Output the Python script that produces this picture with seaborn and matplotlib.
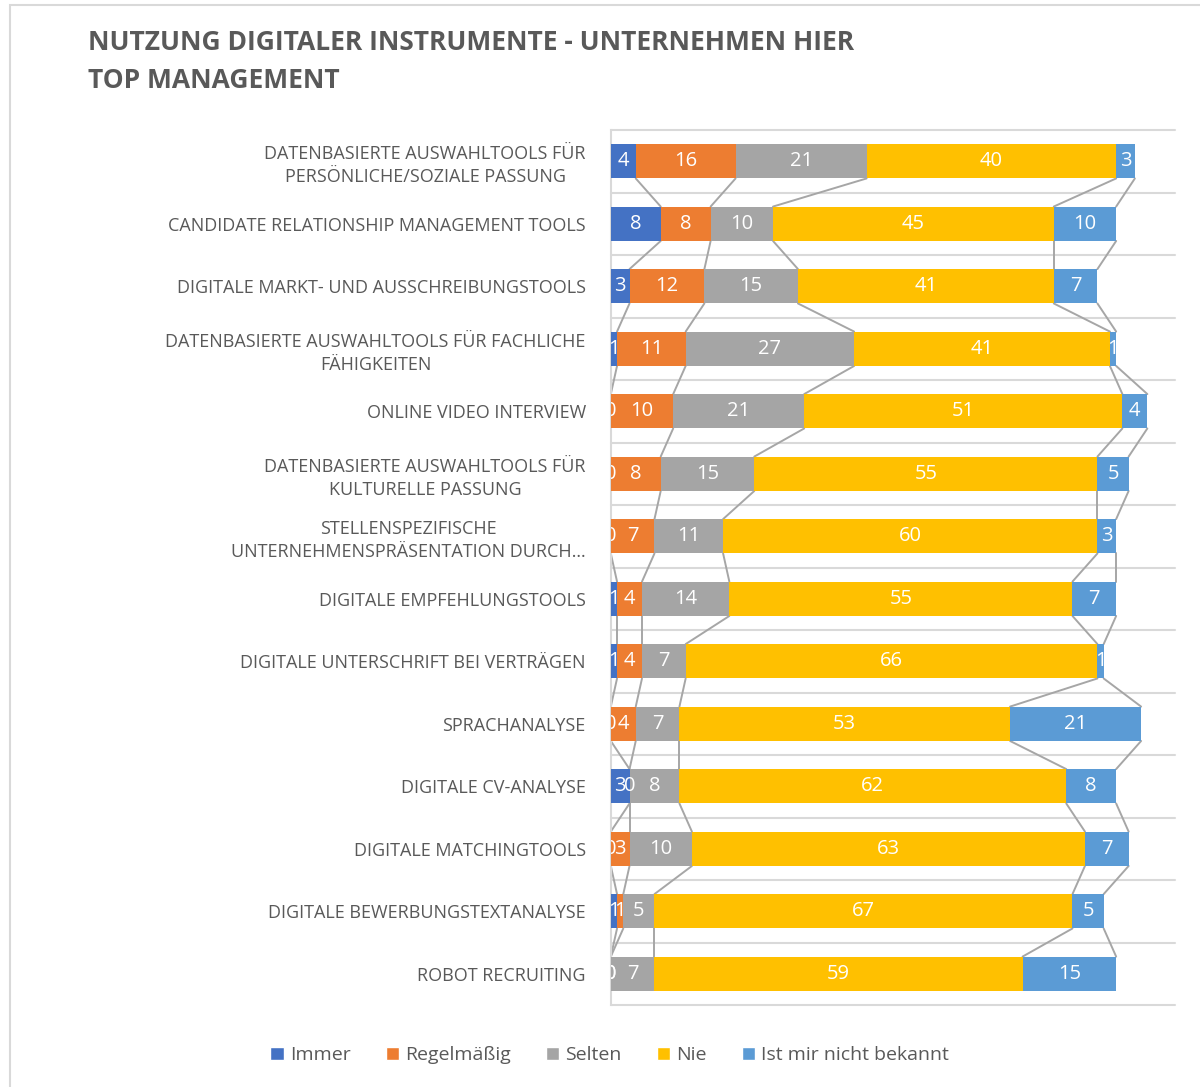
import numpy as np
import pandas as pd
import seaborn as sns
import matplotlib.pyplot as plt
from matplotlib.patches import Patch, Rectangle

categories = [
    'DATENBASIERTE AUSWAHLTOOLS FÜR\nPERSÖNLICHE/SOZIALE PASSUNG',
    'CANDIDATE RELATIONSHIP MANAGEMENT TOOLS',
    'DIGITALE MARKT- UND AUSSCHREIBUNGSTOOLS',
    'DATENBASIERTE AUSWAHLTOOLS FÜR FACHLICHE\nFÄHIGKEITEN',
    'ONLINE VIDEO INTERVIEW',
    'DATENBASIERTE AUSWAHLTOOLS FÜR\nKULTURELLE PASSUNG',
    'STELLENSPEZIFISCHE\nUNTERNEHMENSPRÄSENTATION DURCH…',
    'DIGITALE EMPFEHLUNGSTOOLS',
    'DIGITALE UNTERSCHRIFT BEI VERTRÄGEN',
    'SPRACHANALYSE',
    'DIGITALE CV-ANALYSE',
    'DIGITALE MATCHINGTOOLS',
    'DIGITALE BEWERBUNGSTEXTANALYSE',
    'ROBOT RECRUITING',
]
series = ['Immer', 'Regelmäßig', 'Selten', 'Nie', 'Ist mir nicht bekannt']
immer = [4, 8, 3, 1, 0, 0, 0, 1, 1, 0, 3, 0, 1, 0]
regelmaessig = [16, 8, 12, 11, 10, 8, 7, 4, 4, 4, 0, 3, 1, 0]
selten = [21, 10, 15, 27, 21, 15, 11, 14, 7, 7, 8, 10, 5, 7]
nie = [40, 45, 41, 41, 51, 55, 60, 55, 66, 53, 62, 63, 67, 59]
unbekannt = [3, 10, 7, 1, 4, 5, 3, 7, 1, 21, 8, 7, 5, 15]
colors = ['#4472C4', '#ED7D31', '#A5A5A5', '#FFC000', '#5B9BD5']

title = 'NUTZUNG DIGITALER INSTRUMENTE - UNTERNEHMEN HIER\nTOP MANAGEMENT'

sns.set_theme(style='white')
plt.rcParams['font.family'] = ['Open Sans', 'DejaVu Sans']

vals = np.array([immer, regelmaessig, selten, nie, unbekannt], dtype=float)
cum = vals.cumsum(axis=0)
bar_w = 0.55

fig = plt.figure(figsize=(12, 10.87), dpi=100)
ax = fig.add_axes([0.509, 0.0754, 0.470, 0.8050])

# stacked bars: draw cumulative totals from the widest down
for k in range(len(series) - 1, -1, -1):
    df = pd.DataFrame({'cat': categories, 'val': cum[k]})
    sns.barplot(data=df, x='val', y='cat', order=categories, orient='h',
                color=colors[k], width=bar_w, linewidth=0,
                saturation=1, ax=ax, zorder=3)

# series lines between neighbouring bars
for k in range(len(series)):
    for i in range(len(categories) - 1):
        ax.plot([cum[k][i], cum[k][i + 1]],
                [i + bar_w / 2, i + 1 - bar_w / 2],
                color='#a6a6a6', lw=1.4, zorder=2)

# data labels
for k in range(len(series)):
    start = cum[k] - vals[k]
    for i in range(len(categories)):
        ax.text(start[i] + vals[k][i] / 2, i, f'{int(vals[k][i])}',
                ha='center', va='center', color='white', fontsize=14.5,
                zorder=5, clip_on=True)

for i in range(len(categories) + 1):
    ax.axhline(i - 0.5, color='#d9d9d9', lw=1.5, zorder=1, clip_on=False)

ax.set_xlim(0, 90.4)
ax.set_ylim(len(categories) - 0.5, -0.5)
ax.set_xlabel('')
ax.set_ylabel('')
ax.set_xticks([])
for s in ['top', 'right', 'bottom']:
    ax.spines[s].set_visible(False)
ax.spines['left'].set_color('#d9d9d9')
ax.spines['left'].set_linewidth(1.5)
ax.tick_params(axis='y', length=0, pad=18, labelsize=13,
               labelcolor='#595959')
for lab in ax.get_yticklabels():
    lab.set_multialignment('center')
    lab.set_linespacing(1.35)

fig.text(0.073, 0.973, title, ha='left', va='top', fontsize=19,
         fontweight='bold', color='#595959', linespacing=1.5)

handles = [Patch(facecolor=c, label=s) for c, s in zip(colors, series)]
fig.legend(handles=handles, loc='center', bbox_to_anchor=(0.508, 0.029),
           ncol=5, frameon=False, fontsize=14, handlelength=0.7,
           handleheight=0.7, handletextpad=0.3, columnspacing=1.8,
           labelcolor='#595959')

fig.patches.append(Rectangle((0.008, -0.01), 1.0, 1.005, fill=False,
                             edgecolor='#d9d9d9', lw=1.5,
                             transform=fig.transFigure))

fig.savefig('out.png', dpi=100)
